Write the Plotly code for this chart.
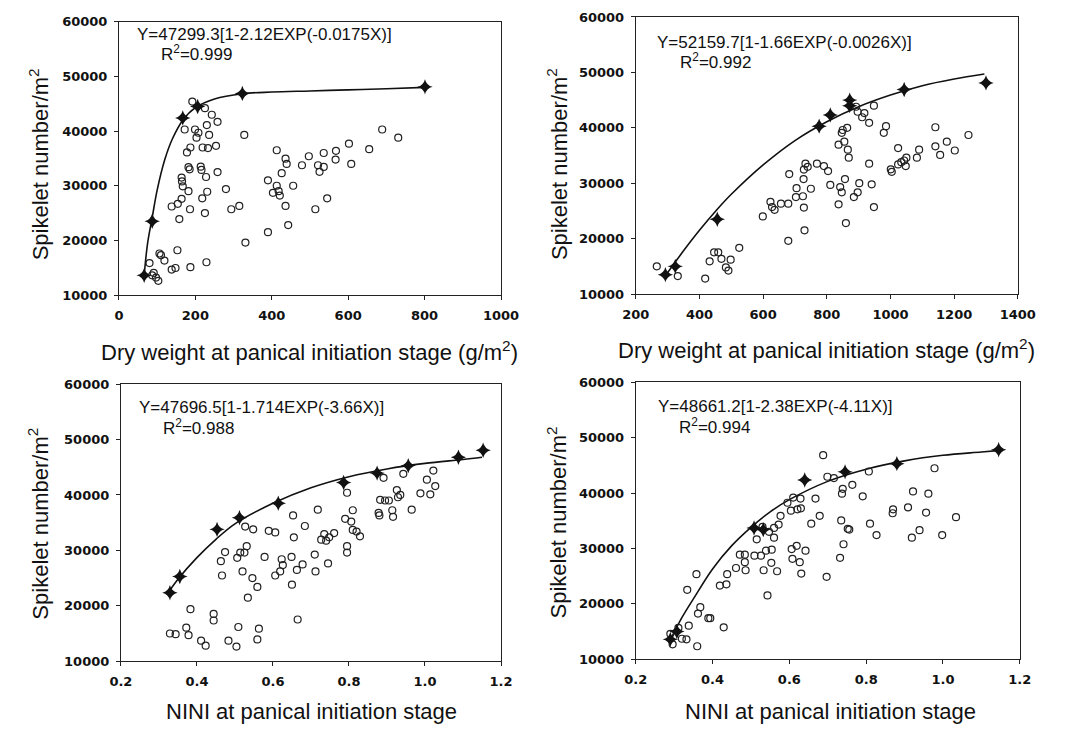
import plotly.graph_objects as go

# page body has an 8 px margin; the figure is sized to fit the window exactly
W, H = 1070, 735
PAD = 8
FW, FH = W - 2 * PAD, H - 2 * PAD

# ---------------- data ----------------
# Panel 1: dry weight (g/m2) vs spikelet number
p1_obs_x = [80, 91, 97, 103, 87, 106, 110, 119, 138, 148, 153, 138, 154, 164, 158, 164, 165, 167, 182, 186,
            187, 172, 178, 187, 182, 185, 192, 199, 208, 203, 214, 216, 218, 225, 228, 219, 230, 233, 236, 231,
            229, 225, 243, 254, 258, 258, 280, 294, 315, 328, 331, 390, 390, 413, 413, 403, 418, 421, 426, 436,
            436, 439, 443, 456, 479, 497, 514, 521, 525, 536, 536, 545, 568, 567, 602, 608, 655, 689, 731]
p1_obs_y = [15850, 14050, 13200, 12600, 13600, 17600, 17300, 16300, 14650, 14950, 18200, 26200, 26700, 27600,
            23900, 31500, 30800, 29900, 29000, 25700, 15100, 40300, 36100, 37000, 33400, 33000, 45400, 40300,
            39700, 38800, 33500, 32900, 27700, 25000, 31600, 37000, 41100, 36900, 39300, 28900, 16000, 44200,
            43000, 37300, 41700, 32500, 29400, 25700, 26300, 39300, 19600, 21500, 31000, 36500, 30000, 28700,
            29000, 28200, 32300, 26300, 34950, 34000, 22800, 30000, 33750, 35400, 25700, 33750, 32550, 33450,
            36000, 27700, 36400, 34800, 37700, 34000, 36700, 40300, 38800]
p1_mean_x = [66, 87, 167, 206, 323, 801]
p1_mean_y = [13600, 23500, 42400, 44500, 46900, 48100]
p1_fit_x = [66, 75, 87, 100, 120, 140, 167, 200, 250, 323, 400, 500, 600, 700, 801]
p1_fit_y = [13600, 19500, 24200, 29200, 34800, 38600, 42000, 44300, 45900, 46850, 47150, 47350, 47550, 47750, 48000]

# Panel 2: dry weight (g/m2) vs spikelet number
p2_obs_x = [266, 332, 418, 432, 446, 459, 469, 483, 491, 498, 525, 599, 623, 628, 636, 656, 679, 682, 679, 703,
            705, 725, 727, 728, 733, 740, 728, 730, 750, 769, 791, 804, 811, 837, 837, 842, 847, 847, 850, 855,
            857, 864, 866, 869, 860, 885, 897, 902, 892, 897, 911, 918, 933, 933, 941, 948, 948, 979, 986, 1001,
            1004, 1024, 1024, 1034, 1043, 1048, 1050, 1083, 1090, 1141, 1141, 1156, 1177, 1202, 1245]
p2_obs_y = [15000, 13240, 12800, 15900, 17530, 17530, 16350, 14800, 14240, 16200, 18350, 24000, 26650, 25700,
            25200, 26300, 26300, 31650, 19600, 27500, 29100, 27650, 30750, 32470, 33530, 32950, 25600, 21500,
            29000, 33530, 33100, 32200, 29700, 26200, 36950, 29300, 28350, 39100, 39600, 37500, 30750, 40000,
            36060, 34600, 22800, 27500, 28350, 30000, 43800, 42900, 41900, 42650, 40900, 33530, 29800, 44000,
            25700, 39100, 40300, 32500, 32060, 36350, 33400, 33800, 34100, 33100, 34600, 34600, 36060, 40100,
            36650, 35100, 37500, 35900, 38700]
p2_mean_x = [293, 324, 456, 776, 811, 872, 872, 1043, 1300]
p2_mean_y = [13500, 15000, 23500, 40300, 42300, 44000, 45000, 46900, 48100]
p2_fit_x = [293, 350, 400, 456, 500, 600, 700, 800, 900, 1000, 1100, 1200, 1295]
p2_fit_y = [13300, 17800, 21500, 25300, 28000, 33300, 37700, 41100, 43800, 45900, 47600, 48800, 49700]

# Panel 3: NINI vs spikelet number
p3_obs_x = [0.329, 0.344, 0.372, 0.378, 0.383, 0.411, 0.423, 0.444, 0.444, 0.463, 0.466, 0.474, 0.483, 0.504,
            0.506, 0.509, 0.514, 0.520, 0.525, 0.527, 0.531, 0.534, 0.546, 0.548, 0.559, 0.559, 0.563, 0.578,
            0.589, 0.606, 0.606, 0.619, 0.623, 0.626, 0.649, 0.650, 0.653, 0.655, 0.663, 0.665, 0.678, 0.684,
            0.710, 0.712, 0.718, 0.727, 0.735, 0.740, 0.745, 0.748, 0.761, 0.790, 0.795, 0.795, 0.795, 0.806,
            0.810, 0.810, 0.820, 0.829, 0.878, 0.880, 0.891, 0.882, 0.895, 0.905, 0.914, 0.916, 0.926, 0.929,
            0.935, 0.943, 0.965, 0.988, 1.005, 1.014, 1.022, 1.027]
p3_obs_y = [15000, 14880, 16060, 14700, 19400, 13700, 12800, 18530, 17350, 28060, 25470, 29700, 13700, 12650,
            28650, 16180, 29600, 26200, 29600, 34300, 30760, 21470, 25000, 33800, 23400, 13940, 15880, 28820,
            33530, 33240, 25470, 26200, 28400, 27350, 28820, 23820, 36300, 32350, 26470, 17530, 27470, 34400,
            29240, 26200, 37350, 31940, 32940, 31760, 27650, 32350, 33120, 35700, 40400, 30760, 29600, 35200,
            37240, 33700, 33400, 32530, 36760, 36300, 43100, 39120, 39000, 39000, 37240, 36060, 40880, 39590,
            40000, 43820, 37350, 40300, 42760, 40120, 44400, 41600]
p3_mean_x = [0.329, 0.355, 0.453, 0.512, 0.614, 0.786, 0.874, 0.956, 1.088, 1.153]
p3_mean_y = [22350, 25300, 33800, 35900, 38500, 42250, 43950, 45300, 46800, 48060]
p3_fit_x = [0.329, 0.35, 0.4, 0.45, 0.5, 0.6, 0.7, 0.8, 0.9, 1.0, 1.1, 1.15]
p3_fit_y = [22800, 24800, 28700, 32000, 34800, 38500, 41300, 43300, 44700, 45700, 46400, 46800]

# Panel 4: NINI vs spikelet number
p4_obs_x = [0.290, 0.296, 0.311, 0.320, 0.332, 0.334, 0.338, 0.358, 0.360, 0.362, 0.368, 0.389, 0.394, 0.419,
            0.429, 0.436, 0.438, 0.461, 0.471, 0.484, 0.484, 0.486, 0.509, 0.515, 0.526, 0.530, 0.533, 0.539,
            0.543, 0.547, 0.553, 0.554, 0.560, 0.560, 0.568, 0.572, 0.577, 0.595, 0.604, 0.606, 0.608, 0.610,
            0.619, 0.621, 0.627, 0.629, 0.630, 0.631, 0.642, 0.657, 0.668, 0.679, 0.688, 0.697, 0.699, 0.716,
            0.732, 0.735, 0.737, 0.739, 0.741, 0.752, 0.756, 0.764, 0.791, 0.807, 0.810, 0.827, 0.869, 0.870,
            0.909, 0.919, 0.922, 0.939, 0.956, 0.962, 0.978, 0.998, 1.034]
p4_obs_y = [14590, 12700, 15650, 13700, 13600, 22530, 16060, 25350, 12350, 18240, 19400, 17410, 17410, 23300,
            15760, 23530, 25350, 26470, 28880, 28880, 27530, 26060, 28700, 31650, 28700, 33880, 26060, 29590,
            21530, 33000, 27410, 29770, 31940, 33700, 25880, 34300, 35880, 38240, 36820, 29880, 28120, 39180,
            30470, 37060, 27530, 39000, 37240, 25470, 29590, 34470, 39000, 35880, 46820, 24880, 42940, 42700,
            28300, 35060, 39880, 40760, 30760, 33530, 33400, 41470, 39410, 43880, 34470, 32410, 36350, 37060,
            37410, 31940, 40290, 33290, 36470, 39880, 44470, 32410, 35650]
p4_mean_x = [0.290, 0.307, 0.508, 0.532, 0.640, 0.745, 0.880, 1.145]
p4_mean_y = [13600, 15000, 33700, 33400, 42350, 43820, 45300, 47820]
p4_fit_x = [0.29, 0.32, 0.35, 0.4, 0.45, 0.5, 0.55, 0.6, 0.7, 0.8, 0.9, 1.0, 1.1, 1.15]
p4_fit_y = [13500, 17500, 20900, 26300, 30500, 33800, 36600, 38800, 42100, 44300, 45800, 46800, 47400, 47700]

equations = ["Y=47299.3[1-2.12EXP(-0.0175X)]", "Y=52159.7[1-1.66EXP(-0.0026X)]",
             "Y=47696.5[1-1.714EXP(-3.66X)]", "Y=48661.2[1-2.38EXP(-4.11X)]"]
r2_labels = ["R<sup>2</sup>=0.999", "R<sup>2</sup>=0.992", "R<sup>2</sup>=0.988", "R<sup>2</sup>=0.994"]
x_titles = ["Dry weight at panical initiation stage (g/m<sup>2</sup>)",
            "Dry weight at panical initiation stage (g/m<sup>2</sup>)",
            "NINI at panical initiation stage", "NINI at panical initiation stage"]
y_title = "Spikelet number/m<sup>2</sup>"
x_ranges = [[0, 1000], [200, 1400], [0.2, 1.2], [0.2, 1.2]]
x_dticks = [200, 200, 0.2, 0.2]
x_formats = ["d", "d", ".1f", ".1f"]
y_range = [10000, 60000]
y_dtick = 10000

panels = [
    (p1_obs_x, p1_obs_y, p1_mean_x, p1_mean_y, p1_fit_x, p1_fit_y),
    (p2_obs_x, p2_obs_y, p2_mean_x, p2_mean_y, p2_fit_x, p2_fit_y),
    (p3_obs_x, p3_obs_y, p3_mean_x, p3_mean_y, p3_fit_x, p3_fit_y),
    (p4_obs_x, p4_obs_y, p4_mean_x, p4_mean_y, p4_fit_x, p4_fit_y),
]

# ---------------- layout geometry (window pixels) ----------------
boxes = [  # left, right, top, bottom
    (108, 502, 15, 294),
    (641, 1035, 10, 293),
    (110, 502, 385, 668),
    (641, 1037, 383, 666),
]
eq_pos = [(125, 28, 149, 47), (661, 36, 685, 55), (127, 409, 151, 429), (662, 408, 684, 428)]
xt_pos = [(305, 351), (838, 349), (307, 719), (842, 719)]
yt_pos = [(25, 160), (560, 160), (25, 527), (560, 526)]


def px(x):
    return (x - PAD) / FW


def py(y):
    return 1 - (y - PAD) / FH


fig = go.Figure()
layout = dict(width=FW, height=FH, margin=dict(l=0, r=0, t=0, b=0),
              paper_bgcolor="white", plot_bgcolor="white", showlegend=False)
annotations = []
tickfont = dict(family="DejaVu Sans", size=13, color="#111", weight="bold")
textfont = dict(family="Liberation Sans", size=17, color="#111")
titlefont = dict(family="Liberation Sans", size=22, color="#111")

for i, (ox, oy, mx, my, fx, fy) in enumerate(panels):
    n = "" if i == 0 else str(i + 1)
    xa, ya = "x" + n, "y" + n
    fig.add_trace(go.Scatter(x=fx, y=fy, mode="lines", line=dict(color="#111", width=1.6, shape="spline"),
                             xaxis=xa, yaxis=ya, hoverinfo="skip"))
    fig.add_trace(go.Scatter(x=ox, y=oy, mode="markers",
                             marker=dict(symbol="circle-open", size=7, color="#222", line=dict(width=1.2)),
                             xaxis=xa, yaxis=ya))
    fig.add_trace(go.Scatter(x=mx, y=my, mode="markers",
                             marker=dict(symbol="star-diamond", size=11, color="#111"),
                             xaxis=xa, yaxis=ya))
    l, r, t, b = boxes[i]
    common = dict(showline=True, linecolor="#222", linewidth=1, mirror=True, showgrid=False,
                  zeroline=False, ticks="outside", ticklen=4, tickcolor="#222", tickfont=tickfont)
    layout["xaxis" + n] = dict(domain=[px(l), px(r)], range=x_ranges[i], dtick=x_dticks[i], tick0=x_ranges[i][0],
                               tickformat=x_formats[i], anchor=ya, ticklabelstandoff=4, **common)
    layout["yaxis" + n] = dict(domain=[py(b), py(t)], range=y_range, dtick=y_dtick, tickformat="d",
                               anchor=xa, ticklabelstandoff=4, **common)
    ex, ey, rx, ry = eq_pos[i]
    annotations.append(dict(text=equations[i], x=px(ex), y=py(ey), xref="paper", yref="paper",
                            xanchor="left", yanchor="middle", showarrow=False, font=textfont))
    annotations.append(dict(text=r2_labels[i], x=px(rx), y=py(ry), xref="paper", yref="paper",
                            xanchor="left", yanchor="middle", showarrow=False, font=textfont))
    tx, ty = xt_pos[i]
    annotations.append(dict(text=x_titles[i], x=px(tx), y=py(ty), xref="paper", yref="paper",
                            xanchor="center", yanchor="middle", showarrow=False, font=titlefont))
    vx, vy = yt_pos[i]
    annotations.append(dict(text=y_title, x=px(vx), y=py(vy), xref="paper", yref="paper",
                            xanchor="center", yanchor="middle", showarrow=False, textangle=-90,
                            font=titlefont))

layout["annotations"] = annotations
fig.update_layout(**layout)
fig.write_html("out.html")
